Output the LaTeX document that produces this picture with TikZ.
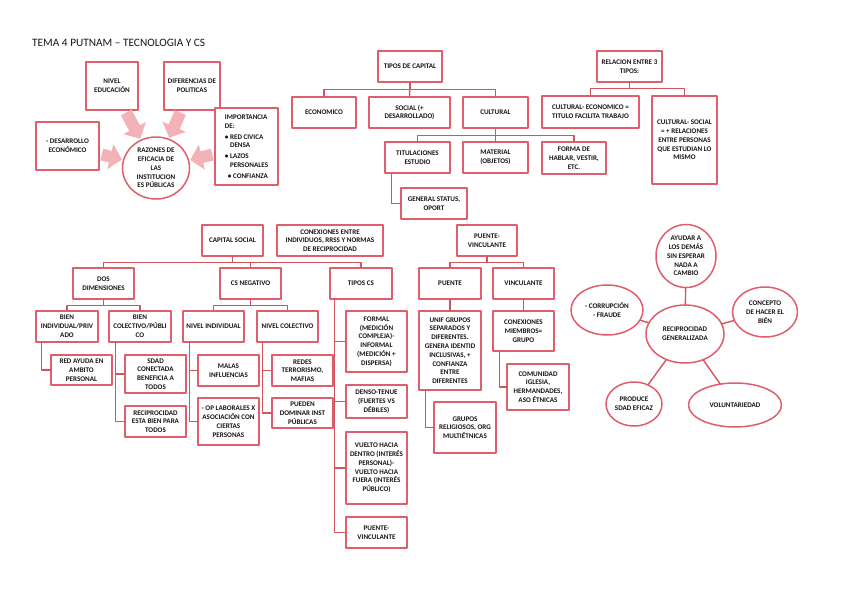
\documentclass[tikz,border=0pt]{standalone}
\usepackage{fontspec}
\setmainfont{Carlito}
\usepackage{tikz}
\usetikzlibrary{arrows.meta, shapes.geometric}

\definecolor{boxred}{HTML}{E05D6B}
\definecolor{linered}{HTML}{D4535F}
\definecolor{arrowpink}{HTML}{F3B2B6}
\definecolor{textgray}{HTML}{161616}
\newcommand{\mapfont}{\fontsize{7.1}{8.8}\selectfont\bfseries}

\begin{document}
\begin{tikzpicture}[
    x=1pt, y=-1pt,
    line cap=round,
    line join=round,
    box/.style={draw=boxred, line width=1.5pt, fill=white, align=center,
        inner sep=1pt, font=\mapfont, text=textgray,
        minimum width=62pt, minimum height=31pt},
    bubble/.style={box, ellipse, inner sep=0pt},
    conn/.style={draw=linered, line width=1.4pt},
    bigarrow/.style={draw=arrowpink, line width=12pt, line cap=butt,
        -{Triangle[length=12pt,width=25pt]}, shorten <=2pt, shorten >=1pt}
]
\useasboundingbox (0,0) rectangle (848,599);

%------------------------------------------------
% Title
%------------------------------------------------
\node[anchor=west, inner sep=0pt, font=\fontsize{11.3}{13}\selectfont, text=textgray]
    (title) at (32,43) {TEMA 4 PUTNAM -- TECNOLOGIA Y CS};

%------------------------------------------------
% Razones de eficacia
%------------------------------------------------
\node[box, minimum width=52pt, minimum height=48pt] (nivel) at (112,86)
    {NIVEL\\EDUCACIÓN};
\node[box, minimum width=56pt, minimum height=48pt] (difer) at (192,86)
    {DIFERENCIAS DE\\POLITICAS};
\node[box, minimum width=63pt, minimum height=48pt] (desarr) at (67.5,146)
    {- DESARROLLO\\ECONÓMICO};
\node[box, minimum width=63pt, minimum height=77pt, align=left] (impor) at (246.5,146.5)
    {IMPORTANCIA\\DE:\\[2pt]\textbullet\ RED CIVICA\\\phantom{\textbullet\ }DENSA\\[2pt]%
     \textbullet\ LAZOS\\\phantom{\textbullet\ }PERSONALES\\[2pt]\hspace*{3pt}\textbullet\ CONFIANZA};
\node[bubble, minimum width=67pt, minimum height=62pt] (razones) at (156,168)
    {RAZONES DE\\EFICACIA DE\\LAS\\INSTITUCION\\ES PÚBLICAS};

\draw[bigarrow] (nivel) -- (razones);
\draw[bigarrow] (difer) -- (razones);
\draw[bigarrow] (desarr) -- (razones);
\draw[bigarrow] (impor) -- (razones);

%------------------------------------------------
% Tipos de capital
%------------------------------------------------
\node[box, minimum width=64pt] (tiposcap) at (410,66.5) {TIPOS DE CAPITAL};
\node[box, minimum width=64pt] (econ) at (324,112.5) {ECONOMICO};
\node[box, minimum width=81pt] (social) at (409.5,112.5) {SOCIAL (+\\DESARROLLADO)};
\node[box, minimum width=65pt] (cultural) at (495.5,112.5) {CULTURAL};
\node[box, minimum width=65pt] (titul) at (417.5,157.5) {TITULACIONES\\ESTUDIO};
\node[box, minimum width=65pt] (material) at (495.5,157.5) {MATERIAL\\(OBJETOS)};
\node[box, minimum width=64pt, minimum height=32pt] (forma) at (574,158)
    {FORMA DE\\HABLAR, VESTIR,\\ETC.};
\node[box, minimum width=66pt] (general) at (434,203.5) {GENERAL STATUS,\\OPORT};

\draw[conn] (tiposcap.south) -- ++(0,7) -| (econ.north);
\draw[conn] (tiposcap.south) -- ++(0,7) -| (cultural.north);
\draw[conn] (tiposcap.south) -- (social.north);
\draw[conn] (cultural.south) -- ++(0,7) -| (titul.north);
\draw[conn] (cultural.south) -- ++(0,7) -| (forma.north);
\draw[conn] (cultural.south) -- (material.north);
\draw[conn] ([xshift=7pt]titul.south west) |- (general.west);

%------------------------------------------------
% Relacion entre 3 tipos
%------------------------------------------------
\node[box, minimum width=65pt] (relacion) at (629.5,66.5) {RELACION ENTRE 3\\TIPOS:};
\node[box, minimum width=97pt, minimum height=32pt] (culteco) at (590.5,112)
    {CULTURAL- ECONOMICO =\\TITULO FACILITA TRABAJO};
\node[box, minimum width=65pt, minimum height=88pt] (cultsoc) at (684.5,140)
    {CULTURAL- SOCIAL\\= + RELACIONES\\ENTRE PERSONAS\\QUE ESTUDIAN LO\\MISMO};

\draw[conn] (relacion.south) -- ++(0,6) -| (culteco.north);
\draw[conn] (relacion.south) -- ++(0,6) -| (cultsoc.north);

%------------------------------------------------
% Capital social
%------------------------------------------------
\node[box, minimum width=61pt] (capsoc) at (232.5,240.5) {CAPITAL SOCIAL};
\node[box, minimum width=106pt] (conex) at (330,240.5)
    {CONEXIONES ENTRE\\INDIVIDUOS, RRSS Y NORMAS\\DE RECIPROCIDAD};
\node[box, minimum width=61pt] (dosdim) at (103.5,283.5) {DOS\\DIMENSIONES};
\node[box, minimum width=61pt] (csneg) at (250.5,283.5) {CS NEGATIVO};
\node[box] (tiposcs) at (361,283.5) {TIPOS CS};

\draw[conn] (capsoc.south) -- ++(0,6) -| (dosdim.north);
\draw[conn] (capsoc.south) -- ++(0,6) -| (csneg.north);
\draw[conn] (capsoc.south) -- ++(0,6) -| (tiposcs.north);

% dos dimensiones
\node[box] (bienind) at (67,326.5) {BIEN\\INDIVIDUAL/PRIV\\ADO};
\node[box] (bienco) at (140,326.5) {BIEN\\COLECTIVO/PÚBLI\\CO};
\node[box, minimum width=61pt, minimum height=30pt] (redayuda) at (81.5,370)
    {RED AYUDA EN\\AMBITO\\PERSONAL};
\node[box, minimum width=61pt, minimum height=38pt] (sdad) at (155.5,374)
    {SDAD\\CONECTADA\\BENEFICIA A\\TODOS};
\node[box, minimum width=61pt] (recip) at (155.5,421.5)
    {RECIPROCIDAD\\ESTA BIEN PARA\\TODOS};

\draw[conn] (dosdim.south) -- ++(0,6) -| (bienind.north);
\draw[conn] (dosdim.south) -- ++(0,6) -| (bienco.north);
\draw[conn] ([xshift=6pt]bienind.south west) |- (redayuda.west);
\draw[conn] ([xshift=7pt]bienco.south west) |- (sdad.west);
\draw[conn] ([xshift=7pt]bienco.south west) |- (recip.west);

% cs negativo
\node[box, minimum width=61pt] (nivind) at (213.5,326.5) {NIVEL INDIVIDUAL};
\node[box, minimum width=61pt] (nivcol) at (287.5,326.5) {NIVEL COLECTIVO};
\node[box, minimum width=61pt] (malas) at (228.5,370.5) {MALAS\\INFLUENCIAS};
\node[box, minimum width=61pt, minimum height=47pt] (oplab) at (228.5,421.5)
    {- OP LABORALES X\\ASOCIACIÓN CON\\CIERTAS\\PERSONAS};
\node[box, minimum width=61pt] (redes) at (302.5,370.5) {REDES\\TERRORISMO,\\MAFIAS};
\node[box, minimum width=61pt, minimum height=30pt] (pueden) at (302.5,413)
    {PUEDEN\\DOMINAR INST\\PÚBLICAS};

\draw[conn] (csneg.south) -- ++(0,6) -| (nivind.north);
\draw[conn] (csneg.south) -- ++(0,6) -| (nivcol.north);
\draw[conn] ([xshift=7pt]nivind.south west) |- (malas.west);
\draw[conn] ([xshift=7pt]nivind.south west) |- (oplab.west);
\draw[conn] ([xshift=6pt]nivcol.south west) |- (redes.west);
\draw[conn] ([xshift=6pt]nivcol.south west) |- (pueden.west);

% tipos cs
\node[box, minimum width=61pt, minimum height=61pt] (formal) at (376.5,341.5)
    {FORMAL\\(MEDICIÓN\\COMPLEJA)-\\INFORMAL\\(MEDICIÓN +\\DISPERSA)};
\node[box, minimum width=61pt, minimum height=33pt] (denso) at (376.5,401.5)
    {DENSO-TENUE\\(FUERTES VS\\DÉBILES)};
\node[box, minimum width=61pt, minimum height=72pt] (vuelto) at (376.5,468)
    {VUELTO HACIA\\DENTRO (INTERÉS\\PERSONAL)-\\VUELTO HACIA\\FUERA (INTERÉS\\PÚBLICO)};
\node[box, minimum width=61pt] (pvtipo) at (376.5,532.5) {PUENTE-\\VINCULANTE};

\draw[conn] ([xshift=5pt]tiposcs.south west) |- (formal.west);
\draw[conn] ([xshift=5pt]tiposcs.south west) |- (denso.west);
\draw[conn] ([xshift=5pt]tiposcs.south west) |- (vuelto.west);
\draw[conn] ([xshift=5pt]tiposcs.south west) |- (pvtipo.west);

%------------------------------------------------
% Puente - vinculante
%------------------------------------------------
\node[box, minimum width=60pt] (pv) at (487,240.5) {PUENTE-\\VINCULANTE};
\node[box] (puente) at (450,283.5) {PUENTE};
\node[box, minimum width=61pt] (vinc) at (523.5,283.5) {VINCULANTE};
\node[box, minimum height=79pt] (unif) at (450,350.5)
    {UNIF GRUPOS\\SEPARADOS Y\\DIFERENTES.\\GENERA IDENTID\\INCLUSIVAS, +\\CONFIANZA\\ENTRE\\DIFERENTES};
\node[box, minimum width=61pt, minimum height=40pt] (conexm) at (523.5,331)
    {CONEXIONES\\MIEMBROS=\\GRUPO};
\node[box, minimum height=46pt] (comunidad) at (538,387)
    {COMUNIDAD\\IGLESIA,\\HERMANDADES,\\ASO ÉTNICAS};
\node[box, minimum height=51pt] (grupos) at (465,427.5)
    {GRUPOS\\RELIGIOSOS, ORG\\MULTIÉTNICAS};

\draw[conn] (pv.south) -- ++(0,6) -| (puente.north);
\draw[conn] (pv.south) -- ++(0,6) -| (vinc.north);
\draw[conn] (puente.south) -- (unif.north);
\draw[conn] (vinc.south) -- (conexm.north);
\draw[conn] ([xshift=7pt]conexm.south west) |- (comunidad.west);
\draw[conn] ([xshift=7pt]unif.south west) |- (grupos.west);

%------------------------------------------------
% Reciprocidad generalizada
%------------------------------------------------
\node[bubble, minimum width=60pt, minimum height=63pt] (ayudar) at (686,256)
    {AYUDAR A\\LOS DEMÁS\\SIN ESPERAR\\NADA A\\CAMBIO};
\node[bubble, minimum width=72pt, minimum height=50pt] (corrup) at (607,310)
    {- CORRUPCIÓN\\- FRAUDE};
\node[bubble, minimum width=65pt, minimum height=50pt] (concepto) at (765,312)
    {CONCEPTO\\DE HACER EL\\BIÉN};
\node[bubble, minimum width=78pt, minimum height=58pt] (recipgen) at (685,334)
    {RECIPROCIDAD\\GENERALIZADA};
\node[bubble, minimum width=56pt, minimum height=44pt] (produce) at (634,404)
    {PRODUCE\\SDAD EFICAZ};
\node[bubble, minimum width=93pt, minimum height=44pt] (volunt) at (735,405)
    {VOLUNTARIEDAD};

\draw[conn] (recipgen) -- (ayudar);
\draw[conn] (recipgen) -- (corrup);
\draw[conn] (recipgen) -- (concepto);
\draw[conn] (recipgen) -- (produce);
\draw[conn] (recipgen) -- (volunt);

\end{tikzpicture}
\end{document}
